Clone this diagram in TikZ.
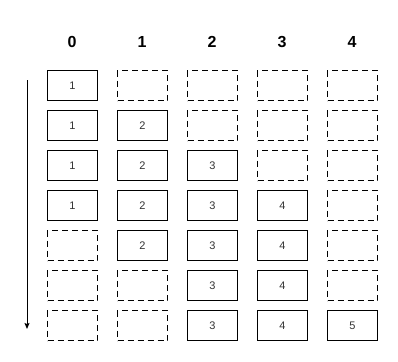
\documentclass[tikz,border=0pt]{standalone}
\usepackage{fontspec}
\setmainfont{Liberation Sans}
\usetikzlibrary{arrows.meta}
\begin{document}
\begin{tikzpicture}[x=1pt,y=-1pt,
  cellbox/.style={draw=black,line width=1pt,minimum width=50pt,minimum height=30pt,inner sep=0pt,anchor=north west,font=\fontsize{11}{13}\selectfont,text=black!80},
  fullbox/.style={cellbox},
  emptybox/.style={cellbox,dash pattern=on 6pt off 4pt},
  headlbl/.style={font=\fontsize{16}{19}\selectfont\bfseries,inner sep=0pt},
  timearrow/.style={line width=1pt,-{Stealth[length=6pt,width=5pt,inset=1pt]}}]
\useasboundingbox (0,0) rectangle (398,361);
\foreach \c in {0,...,4}{
  \pgfmathtruncatemacro\lab{\c}
  \node[headlbl] (h\c) at (72+70*\c,42) {\lab};
}
% rows: list of values per column (0 = empty)
\foreach \r/\vals in {0/{1,0,0,0,0},1/{1,2,0,0,0},2/{1,2,3,0,0},3/{1,2,3,4,0},4/{0,2,3,4,0},5/{0,0,3,4,0},6/{0,0,3,4,5}}{
  \foreach \v [count=\ci from 0] in \vals {
    \ifnum\v=0
      \node[emptybox] (b\r-\ci) at (47+70*\ci,70+40*\r) {};
    \else
      \node[fullbox] (b\r-\ci) at (47+70*\ci,70+40*\r) {\v};
    \fi
  }
}
\coordinate (arrtop) at (27,80);
\coordinate (arrbot) at (27,329);
\draw[timearrow] (arrtop) -- (arrbot);
\end{tikzpicture}
\end{document}
